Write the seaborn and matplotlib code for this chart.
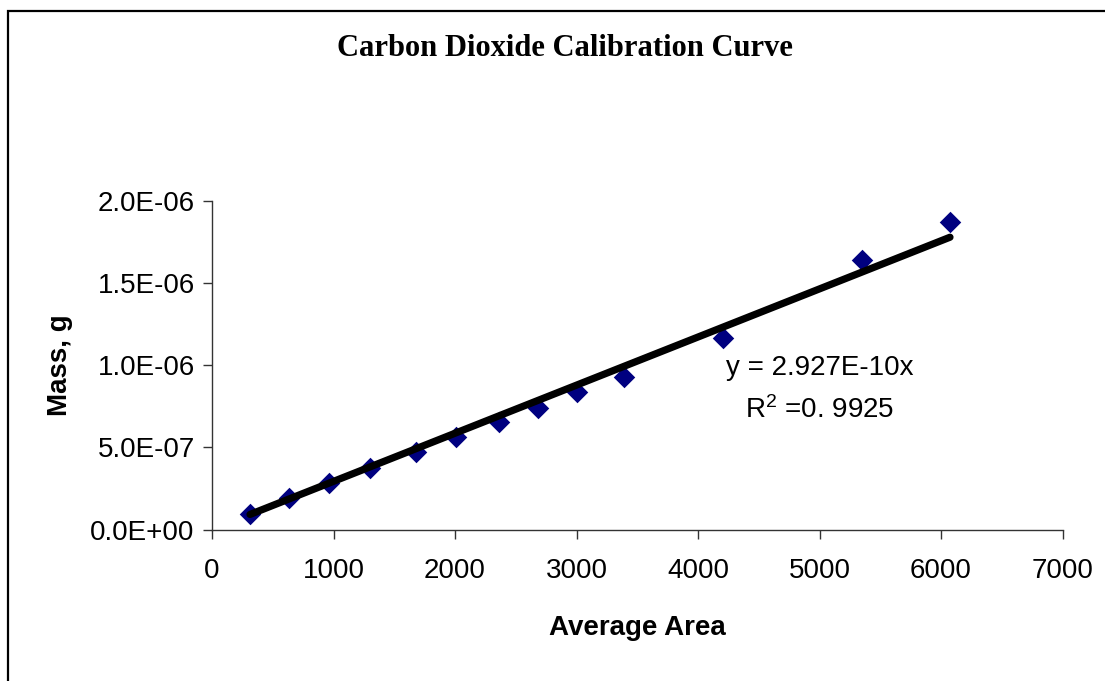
import numpy as np
import pandas as pd
import matplotlib
matplotlib.use("Agg")
import matplotlib.pyplot as plt
import seaborn as sns
from matplotlib.patches import Rectangle
from matplotlib.ticker import FuncFormatter

# ---- data ----
average_area = [313, 636, 965, 1300, 1679, 2008, 2365, 2686, 3002, 3391, 4208, 5347, 6074]
mass_g = [0.094e-6, 0.190e-6, 0.281e-6, 0.376e-6, 0.469e-6, 0.560e-6, 0.652e-6,
          0.740e-6, 0.838e-6, 0.929e-6, 1.164e-6, 1.638e-6, 1.871e-6]
trend_slope = 2.927e-10
r_squared_text = "0. 9925"
x_ticks = [0, 1000, 2000, 3000, 4000, 5000, 6000, 7000]
y_ticks = [0.0, 0.5e-6, 1.0e-6, 1.5e-6, 2.0e-6]
title = "Carbon Dioxide Calibration Curve"
x_label = "Average Area"
y_label = "Mass, g"

sns.set_theme(style="white")
plt.rcParams['font.family'] = ['Liberation Sans', 'DejaVu Sans']
plt.rcParams['mathtext.fontset'] = 'custom'
plt.rcParams['mathtext.rm'] = 'Liberation Sans'
plt.rcParams['mathtext.it'] = 'Liberation Sans'
plt.rcParams['text.color'] = 'black'
plt.rcParams['axes.labelcolor'] = 'black'

df = pd.DataFrame({"area": average_area, "mass": mass_g})
trend_x = np.array([min(average_area), max(average_area)], dtype=float)
trend_df = pd.DataFrame({"area": trend_x, "mass": trend_slope * trend_x})

fig = plt.figure(figsize=(11.05, 6.81), dpi=100)
ax = fig.add_axes([212 / 1105, 1 - 529.5 / 681, 850.5 / 1105, 328.8 / 681])

sns.scatterplot(data=df, x="area", y="mass", marker="D", s=120, color="#000080",
                linewidth=0, ax=ax, zorder=2, clip_on=False)
sns.lineplot(data=trend_df, x="area", y="mass", color="black", linewidth=5.2,
             ax=ax, zorder=3, solid_capstyle="round")

ax.set_xlim(0, 7000)
ax.set_ylim(0, 2.0e-6)
ax.set_xticks(x_ticks)
ax.set_yticks(y_ticks)
ax.yaxis.set_major_formatter(FuncFormatter(lambda v, p: f"{v:.1E}"))
ax.tick_params(axis="both", which="major", direction="out", length=6.5, width=1,
               color="#333333", labelsize=20, labelcolor="black",
               bottom=True, left=True)
ax.tick_params(axis="x", pad=14)
ax.tick_params(axis="y", pad=6)

for s in ["top", "right"]:
    ax.spines[s].set_visible(False)
for s in ["left", "bottom"]:
    ax.spines[s].set_color("#333333")
    ax.spines[s].set_linewidth(1)
ax.grid(False)
ax.set_facecolor("white")

ax.set_xlabel(x_label, fontsize=20, fontweight="bold", va="center", color="black")
ax.xaxis.set_label_coords(0.5, -0.2996)
ax.set_ylabel(y_label, fontsize=20, fontweight="bold", va="center", color="black")
ax.yaxis.set_label_coords(-0.1787, 0.5)

ax.text(0.715, 0.491, "y = 2.927E-10x", transform=ax.transAxes, fontsize=20,
        ha="center", va="center", color="black")
ax.text(0.715, 0.3635, "R$^2$ =" + r_squared_text, transform=ax.transAxes,
        fontsize=20, ha="center", va="center", color="black")

fig.text(565 / 1105, 1 - 48 / 681, title, fontsize=22, fontweight="bold",
         family=["Liberation Serif", "DejaVu Serif"], ha="center", va="center",
         color="black")

fig.patches.append(Rectangle((7.5 / 1105, -0.2), 2, 1 - 10.5 / 681 + 0.2,
                             transform=fig.transFigure, fill=False,
                             edgecolor="black", linewidth=1.6, clip_on=False))

fig.savefig("out.png", dpi=100, facecolor="white")
